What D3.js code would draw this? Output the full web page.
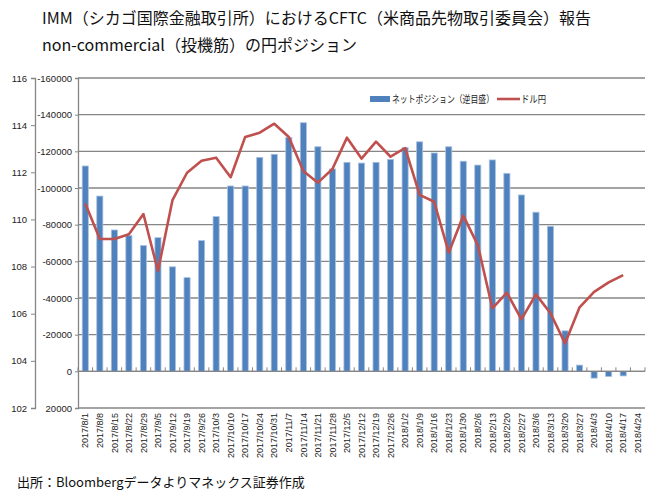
<!DOCTYPE html>
<html><head><meta charset="utf-8">
<script src="https://cdn.jsdelivr.net/npm/d3@7"></script>
<style>body{margin:0;background:#fff}</style>
</head><body>
<svg id="c" width="665" height="501"></svg>
<script>
const categories = ["2017/8/1","2017/8/8","2017/8/15","2017/8/22","2017/8/29","2017/9/5","2017/9/12","2017/9/19","2017/9/26","2017/10/3","2017/10/10","2017/10/17","2017/10/24","2017/10/31","2017/11/7","2017/11/14","2017/11/21","2017/11/28","2017/12/5","2017/12/12","2017/12/19","2017/12/26","2018/1/2","2018/1/9","2018/1/16","2018/1/23","2018/1/30","2018/2/6","2018/2/13","2018/2/20","2018/2/27","2018/3/6","2018/3/13","2018/3/20","2018/3/27","2018/4/3","2018/4/10","2018/4/17","2018/4/24"];
const netPosition = [-112000,-95600,-77100,-74000,-68600,-72900,-57000,-51100,-71300,-84400,-101100,-101100,-116700,-118400,-127600,-135600,-122500,-110400,-114000,-113600,-114000,-115600,-122000,-125200,-119100,-122500,-114600,-112500,-115300,-108000,-96200,-86800,-79100,-22100,-3400,3700,2800,2500,null];
const usdjpy = [110.68,109.17,109.17,109.37,110.23,107.81,110.82,111.98,112.49,112.62,111.79,113.5,113.68,114.06,113.5,112.05,111.56,112.14,113.47,112.58,113.3,112.66,113.03,111.04,110.75,108.59,110.16,108.91,106.23,106.89,105.76,106.82,106.02,104.74,106.27,106.93,107.33,107.64,null];
const yenTicks = [102,104,106,108,110,112,114,116];
const posTicks = [-160000,-140000,-120000,-100000,-80000,-60000,-40000,-20000,0,20000];
const titleLines = ["IMM（シカゴ国際金融取引所）におけるCFTC（米商品先物取引委員会）報告","non-commercial（投機筋）の円ポジション"];
const legendLabels = ["ネットポジション（逆目盛）","ドル円"];
const footer = "出所：Bloombergデータよりマネックス証券作成";

const svg = d3.select("#c");
const L = 78, R = 645, T = 78, B = 408;
const grid = "#868686", txt = "#222";
const axisFont = "'Liberation Sans', Arial, sans-serif";
const jpFont = "'Noto Sans CJK JP', sans-serif";

const x = d3.scaleBand().domain(categories).range([L, R]).paddingInner(0.58).paddingOuter(0.29);
const yPos = d3.scaleLinear().domain([-160000, 20000]).range([T, B]);
const yYen = d3.scaleLinear().domain([116, 102]).range([T, B]);
const step = x.step();

// gridlines
svg.append("g").selectAll("line").data(posTicks).join("line")
  .attr("x1", L).attr("x2", R).attr("y1", d => yPos(d)).attr("y2", d => yPos(d))
  .attr("stroke", grid).attr("stroke-width", 1.3);

// bars
const y0 = yPos(0);
svg.append("g").selectAll("rect").data(categories.map((c,i)=>({c, v: netPosition[i]})).filter(d => d.v !== null)).join("rect")
  .attr("x", d => x(d.c)).attr("width", x.bandwidth())
  .attr("y", d => Math.min(yPos(d.v), y0)).attr("height", d => Math.abs(yPos(d.v) - y0))
  .attr("fill", "#4F81BD").attr("stroke", "#A9C1E0").attr("stroke-width", 0.8);

// zero line + category ticks
svg.append("line").attr("x1", L).attr("x2", R).attr("y1", y0).attr("y2", y0).attr("stroke", grid).attr("stroke-width", 1.3);
svg.append("g").selectAll("line").data(d3.range(categories.length + 1)).join("line")
  .attr("x1", i => L + i * step).attr("x2", i => L + i * step)
  .attr("y1", y0).attr("y2", y0 - 4).attr("stroke", grid).attr("stroke-width", 1);

// line
const line = d3.line().defined(d => d.v !== null).x(d => x(d.c) + x.bandwidth()/2).y(d => yYen(d.v));
svg.append("path").datum(categories.map((c,i)=>({c, v: usdjpy[i]})))
  .attr("d", line).attr("fill", "none").attr("stroke", "#C0504D").attr("stroke-width", 2.6).attr("stroke-linejoin", "round");

// left yen axis
const ax1 = svg.append("g").attr("transform", `translate(35,0)`)
  .call(d3.axisLeft(yYen).tickValues(yenTicks).tickSize(4).tickPadding(4).tickFormat(d => String(d)));
ax1.select(".domain").attr("stroke", grid).attr("stroke-width", 1.3);
ax1.selectAll(".tick line").attr("stroke", grid);
ax1.selectAll("text").attr("fill", txt).style("font-family", axisFont).style("font-size", "9.5px");

// position axis
const ax2 = svg.append("g").attr("transform", `translate(${L},0)`)
  .call(d3.axisLeft(yPos).tickValues(posTicks).tickSize(3).tickPadding(3).tickFormat(d => String(d)));
ax2.select(".domain").attr("stroke", grid).attr("stroke-width", 1.3);
ax2.selectAll(".tick line").attr("stroke", grid);
ax2.selectAll("text").attr("fill", txt).style("font-family", axisFont).style("font-size", "9.5px");

// category labels
const ax3 = svg.append("g").attr("transform", `translate(0,${B})`)
  .call(d3.axisBottom(x).tickSize(0));
ax3.select(".domain").remove();
ax3.selectAll("text").attr("y", 0).attr("x", -5).attr("dy", "0.35em")
  .attr("transform", "rotate(-90)").style("text-anchor", "end")
  .attr("fill", txt).style("font-family", axisFont).style("font-size", "9px");

// legend
const lg = svg.append("g");
lg.append("rect").attr("x", 370).attr("y", 96).attr("width", 20).attr("height", 6).attr("fill", "#4F81BD");
lg.append("text").attr("x", 392).attr("y", 99).attr("dy", "0.35em").text(legendLabels[0])
  .attr("textLength", 102).attr("lengthAdjust", "spacingAndGlyphs")
  .style("font-family", jpFont).style("font-size", "10px").attr("fill", txt);
lg.append("line").attr("x1", 497).attr("x2", 520).attr("y1", 99).attr("y2", 99).attr("stroke", "#C0504D").attr("stroke-width", 2.6);
lg.append("text").attr("x", 521).attr("y", 99).attr("dy", "0.35em").text(legendLabels[1])
  .attr("textLength", 25).attr("lengthAdjust", "spacingAndGlyphs")
  .style("font-family", jpFont).style("font-size", "10px").attr("fill", txt);

// title
svg.append("g").selectAll("text").data(titleLines).join("text")
  .attr("x", 42).attr("y", (d,i) => 24 + i * 27).text(d => d)
  .style("font-family", jpFont).style("font-size", "16px").attr("fill", "#111");

// footer
svg.append("text").attr("x", 17).attr("y", 487).text(footer)
  .style("font-family", jpFont).style("font-size", "13px").attr("fill", "#111");
</script>
</body></html>
